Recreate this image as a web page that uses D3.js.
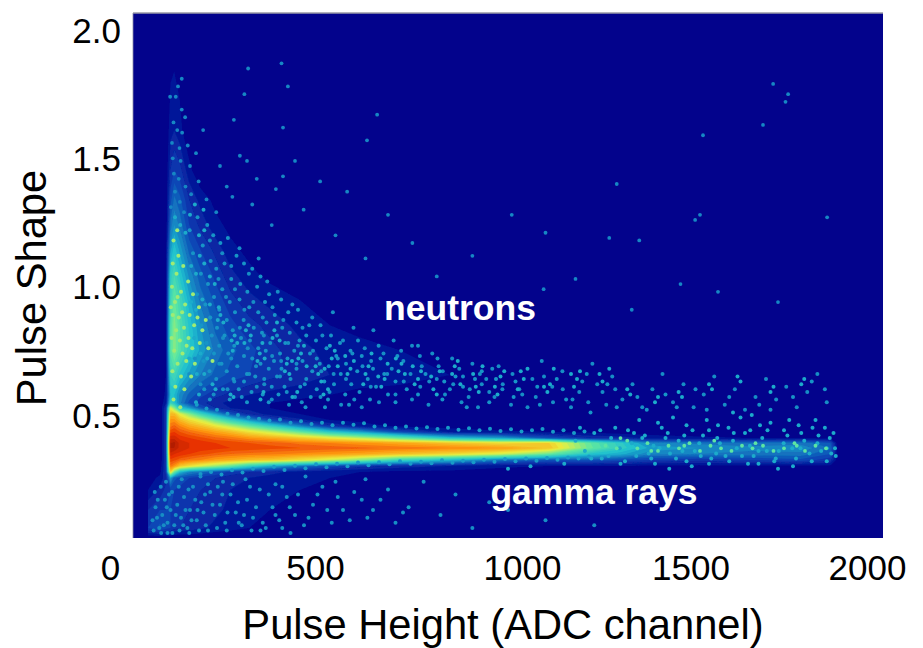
<!DOCTYPE html>
<html><head><meta charset="utf-8">
<script src="https://cdn.jsdelivr.net/npm/d3@7/dist/d3.min.js"></script>
<style>html,body{margin:0;background:#fff}svg{display:block}text{font-family:"Liberation Sans",Arial,sans-serif}</style>
</head><body><svg id="c" width="923" height="648"></svg>
<script>
const xTicks=[0,500,1000,1500,2000];
const yTicks=[0.5,1.0,1.5,2.0];
const xGrid=[40,72,88,100,110,125,150,180,220,260,310,365,445,525,605,710,845,980,1110,1220,1300,1380,1510,1645,1780,1860,1880];
const yGrid=[2.066,1.61,1.454,1.337,1.24,1.143,1.045,.948,.85,.753,.656,.578,.547,.527,.504,.48,.457,.434,.41,.391,.371,.348,.325,.301,.278,.254,.208,.13,.06,.021];
const density=[
[0,0,0,0,0,0,0,0,0,0,0,0,0,0,0,0,0,0,0,0,0,0,0,0,0,0,0],
[0,0,0,.5,.6,.4,0,0,0,0,0,0,0,0,0,0,0,0,0,0,0,0,0,0,0,0,0],
[0,0,0,.9,1.2,1,.4,0,0,0,0,0,0,0,0,0,0,0,0,0,0,0,0,0,0,0,0],
[0,0,0,1.4,1.9,1.6,.9,.5,.2,0,0,0,0,0,0,0,0,0,0,0,0,0,0,0,0,0,0],
[0,0,0,1.9,2.4,2,1.2,.8,.4,.2,0,0,0,0,0,0,0,0,0,0,0,0,0,0,0,0,0],
[0,0,.2,2.6,3.2,2.6,1.7,1.2,.8,.4,.2,0,0,0,0,0,0,0,0,0,0,0,0,0,0,0,0],
[0,0,.2,3.4,3.9,3.2,2.3,1.6,1.1,.7,.4,.2,0,0,0,0,0,0,0,0,0,0,0,0,0,0,0],
[0,0,.2,3.8,4.6,3.9,2.8,2,1.4,1,.7,.5,.3,.1,0,0,0,0,0,0,0,0,0,0,0,0,0],
[0,0,.3,4.2,5,4.2,3.2,2.4,1.7,1.3,1,.8,.5,.3,.2,.1,0,0,0,0,0,0,0,0,0,0,0],
[0,0,.3,4.4,5,4.3,3.4,2.6,2,1.6,1.3,1,.7,.5,.4,.3,.2,.1,0,0,0,0,0,0,0,0,0],
[0,0,.3,3.6,3.9,3.2,2.6,2.1,1.7,1.4,1.2,1,.8,.6,.5,.4,.3,.2,.1,0,0,0,0,0,0,0,0],
[0,0,.4,3,3,2.3,1.7,1.3,1,.8,.6,.5,.4,.3,.2,.2,.1,0,0,0,0,0,0,0,0,0,0],
[0,0,.6,3.6,3.2,2.2,1.4,1,.7,.5,.4,.3,.2,.1,0,0,0,0,0,0,0,0,0,0,0,0,0],
[0,0,1,6,5,3.2,2.6,1.6,.9,.6,.5,.3,.2,.1,0,0,0,0,0,0,0,0,0,0,0,0,0],
[0,0,1,7,7,6,5,3.8,2.6,1.5,.8,.5,.3,.2,.1,0,0,0,0,0,0,0,0,0,0,0,0],
[0,0,1,7.6,7.6,7,6.4,5.8,4.6,3.6,2.5,1.4,.7,.3,.2,0,0,0,0,0,0,0,0,0,0,0,0],
[0,0,1,8,8.2,7.8,7.3,6.9,6.2,5.5,4.6,3.6,2.2,1,.5,.2,.1,0,0,0,0,0,0,0,0,0,0],
[0,0,1,8.6,8.7,8.4,8.1,7.8,7.4,7,6.3,5.7,4.6,3.4,2.6,1.4,.6,.4,.3,.2,.1,.1,0,0,0,0,0],
[0,0,1,9.2,9.2,8.9,8.7,8.5,8.2,8,7.6,7.3,6.8,6.2,5.6,4.6,3.2,2.6,1.5,.9,.8,.5,.4,.3,.3,.2,0],
[0,0,1,9.6,9.7,9.2,9,8.9,8.7,8.6,8.4,8.3,8,7.8,7.6,7.3,6.8,6.4,6.6,4.5,3.4,2.2,2,1.9,2,1.5,0],
[0,0,1,9.6,9.6,9.2,9,8.9,8.8,8.7,8.6,8.5,8.4,8.3,8.2,8,7.8,7.5,6.8,4.6,3.5,2.6,2.4,2.2,2.3,1.8,0],
[0,0,1,9.2,9,8.9,8.7,8.5,8.3,8.1,8,7.9,7.7,7.5,7.3,6.9,6.4,5.8,4.6,3.2,2.8,2.2,2.1,2,2,1.5,0],
[0,0,1,8.6,8.5,8.2,8,7.8,7.4,7.2,6.9,6.8,6.3,5.7,5,3.8,3,2,1.6,1.6,1.4,1.2,1,1.2,1.4,1,0],
[0,.1,1,8,7.6,6.8,6.3,5.8,5.2,4.6,3.6,2.8,2,1.4,1,.8,.6,.4,.3,.3,.3,.2,.2,.2,.2,.2,0],
[0,.2,1,6.5,4.6,3,2.2,1.9,1.5,1.1,.9,.7,.5,.4,.3,.2,.2,.1,.1,.1,.1,0,0,0,0,0,0],
[.1,.4,.8,2.6,1.6,1.4,1.2,1,.9,.7,.6,.5,.4,.3,.2,.1,.1,0,0,0,0,0,0,0,0,0,0],
[.3,.7,1,1.2,1.2,1.1,1,.9,.8,.6,.5,.4,.3,.2,.1,0,0,0,0,0,0,0,0,0,0,0,0],
[.9,1.2,1.2,1.2,1.1,1,.9,.8,.7,.5,.4,.3,.2,.1,0,0,0,0,0,0,0,0,0,0,0,0,0],
[1.2,1.6,1.3,1.2,1,.9,.8,.7,.5,.4,.3,.2,.1,0,0,0,0,0,0,0,0,0,0,0,0,0,0],
[0,0,0,0,0,0,0,0,0,0,0,0,0,0,0,0,0,0,0,0,0,0,0,0,0,0,0]];
const strayEvents=[[130,1.81],[120,1.78],[99,1.74],[114,1.74],[130,1.69],[139,1.66],[307,1.85],[396,1.87],[413,1.78],[297,1.75],[269,1.65],[651,1.67],[624,1.57],[400,1.62],[187,1.61],[285,1.51],[304,1.49],[432,1.49],[330,1.42],[400,1.43],[381,1.38],[499,1.41],[571,1.37],[232,1.47],[250,1.39],[1707,1.79],[1747,1.75],[1740,1.72],[1680,1.63],[1520,1.59],[1851,1.27],[1290,1.40],[1512,1.28],[1499,1.26],[1100,1.21],[1270,1.19],[1350,1.18],[680,1.28],[745,1.17],[905,1.12],[1010,1.28],[1180,1.03],[1460,1.01],[1560,.98],[1720,.94],[1330,.91],[1095,.99],[810,1.04],[620,1.11],[540,1.2],[455,1.3],[370,1.24],[318,1.32],[265,1.35],[222,1.29],[108,1.64],[118,1.61],[131,1.6],[104,1.56],[124,1.54],[146,1.55],[106,1.5],[127,1.49],[152,1.47],[168,1.52],[109,1.44],[122,1.42],[140,1.39],[175,1.41],[196,1.34],[155,1.36],[112,1.37],[125,1.33],[101,1.31],[136,1.29]];
const neutronEvents=[[205,1.18],[238,1.13],[262,1.08],[284,1.15],[309,1.05],[335,1.11],[358,1.02],[386,.98],[228,1.03],[248,.96],[272,.99],[297,.91],[321,.94],[346,.88],[372,.92],[401,.87],[425,.93],[452,.84],[478,.88],[505,.81],[533,.9],[560,.79],[588,.84],[618,.76],[641,.83],[668,.74],[695,.79],[721,.71],[744,.77],[770,.69],[798,.74],[826,.67],[851,.72],[880,.65],[905,.7],[930,.62],[958,.68],[985,.6],[1012,.66],[1038,.58],[1065,.64],[1090,.71],[1118,.61],[1145,.67],[1172,.56],[1198,.63],[1225,.7],[1252,.59],[1278,.65],[1305,.56],[1332,.62],[1358,.53],[1385,.6],[1412,.66],[1440,.55],[1468,.62],[1495,.53],[1522,.58],[1550,.65],[1578,.54],[1605,.6],[1632,.52],[1660,.57],[1688,.64],[1715,.56],[1742,.61],[1770,.53],[1798,.59],[1825,.66],[1850,.55],
[240,.8],[262,.72],[285,.84],[306,.76],[328,.69],[349,.81],[371,.73],[392,.65],[414,.78],[436,.7],[458,.62],[480,.75],[502,.67],[524,.59],[546,.72],[568,.64],[590,.56],[612,.69],[634,.61],[656,.55],[678,.66],[700,.58],[722,.63],[744,.56],[766,.61],[788,.54],[810,.64],[832,.58],[854,.62],[876,.55],[898,.6],[920,.53],[942,.64],[964,.57],[986,.62],[1008,.54],[1030,.6],[1052,.53],[1074,.57],[1096,.65],[1120,.55],[1146,.6],[1168,.53],[1190,.59],[1214,.55],[1238,.62],[1262,.54],[1286,.6],[660,.72],[690,.68],[715,.75],[740,.66],[765,.73],[790,.63],[815,.69],[845,.6],[870,.68],[895,.57],[925,.66],[950,.59],[975,.69],
[180,.62],[215,.58],[252,.6],[290,.57],[330,.61],[370,.56],[410,.59],[450,.55],[500,.57],[555,.54],[610,.53],[150,.66],[165,.72],[195,.78],[230,.7],[270,.63],[310,.66],[350,.62],[395,.71],[440,.77],[490,.72],[535,.66],[585,.74],[635,.71]];
const neutronDense=[[172,1.27],[198,1.24],[151,1.22],[214,1.2],[186,1.16],[233,1.17],[253,1.19],[160,1.13],[207,1.1],[244,1.09],[276,1.12],[296,1.09],[222,1.07],[181,1.05],[262,1.03],[318,1.07],[340,1.04],[200,1.01],[286,1.01],[238,.99],[305,.98],[331,1],[363,.97],[171,.97],[216,.96],[258,.94],[284,.95],[352,.94],[395,.95],[193,.93],[230,.91],[272,.9],[310,.92],[334,.9],[378,.89],[414,.9],[440,.91],[206,.88],[250,.87],[295,.87],[356,.86],[398,.84],[436,.86],[470,.85],[182,.85],[224,.84],[266,.83],[322,.84],[344,.82],[384,.81],[418,.82],[462,.81],[500,.85],[210,.81],[244,.81],[288,.8],[312,.79],[366,.78],[406,.78],[444,.79],[488,.79],[528,.81],[196,.78],[230,.77],[270,.77],[334,.76],[354,.75],[392,.74],[430,.75],[472,.74],[516,.76],[552,.78],[216,.74],[254,.74],[296,.73],[318,.72],[376,.71],[412,.72],[452,.71],[498,.7],[542,.73],[580,.75],[188,.71],[236,.7],[278,.69],[340,.7],[362,.68],[396,.68],[436,.68],[478,.67],[522,.69],[568,.7],[610,.73],[204,.67],[250,.67],[304,.66],[326,.65],[384,.65],[420,.64],[462,.64],[510,.63],[554,.66],[598,.67],[640,.68],[222,.64],[268,.64],[296,.63],[350,.64],[370,.61],[404,.61],[446,.61],[490,.6],[536,.62],[582,.62],[626,.64],[670,.66],[190,.6],[240,.6],[282,.6],[316,.59],[346,.58],[388,.58],[432,.57],[474,.57],[520,.56],[566,.58],[604,.59],[648,.61],[700,.63],[205,.56],[258,.56],[304,.55],[362,.55],[416,.54],[460,.53],[512,.53],[576,.54],[632,.56],[680,.58],[730,.6],[780,.66],[830,.63],[880,.61],[930,.67],[600,.79],[655,.77],[705,.73],[760,.77],[812,.72],[860,.65],[912,.64],[968,.64],[1020,.63],[1078,.61],[1130,.64],[1210,.66],[1265,.62],[1345,.57],[1420,.58],[1500,.6],[1590,.57],[1670,.54],[1760,.57],[700,.55],[760,.58],[825,.56],[890,.53],[950,.55],[1015,.57],[1085,.54],[1155,.56],[1220,.51],[1290,.53],[1370,.52],[1450,.53],[1530,.52],[1700,.52],[1845,.6],[1810,.63]];
const neutronClumps=[[226,.87],[233,.89],[229,.92],[241,.86],[263,.79],[271,.81],[266,.75],[278,.78],[301,.83],[308,.85],[314,.81],[297,.78],[338,.74],[345,.78],[351,.72],[332,.71],[377,.83],[384,.86],[372,.8],[391,.79],[410,.7],[417,.66],[424,.71],[405,.67],[448,.74],[456,.77],[441,.72],[463,.69],[494,.66],[502,.63],[487,.69],[511,.68],[530,.72],[538,.75],[525,.77],[546,.69],[572,.66],[580,.68],[566,.73],[589,.71],[620,.66],[628,.69],[614,.62],[636,.74],[662,.61],[671,.64],[654,.65],[679,.7],[708,.67],[716,.7],[701,.72],[725,.66],[751,.62],[760,.64],[746,.69],[768,.67],[801,.6],[810,.58],[795,.65],[818,.67],[858,.69],[866,.71],[851,.66],[873,.62],[914,.61],[922,.59],[907,.66],[932,.69],[972,.58],[980,.65],[965,.61],[990,.67],[1034,.67],[1042,.64],[1026,.6],[1052,.68],[1105,.59],[1112,.62],[1096,.61],[1122,.68],[1176,.61],[1184,.64],[1168,.66],[1192,.67],[1244,.66],[1252,.63],[1270,.68],[1318,.6],[1326,.58],[1392,.55],[1400,.57],[1455,.59],[1464,.57],[1536,.62],[1544,.6],[1612,.65],[1620,.63],[1700,.59],[1708,.61],[1782,.62],[1790,.64],[168,.55],[176,.58],[212,.62],[220,.6],[260,.58],[268,.57],[340,.56],[348,.59],[425,.57],[438,.59],[508,.58],[520,.6],[155,1.08],[168,1.05],[178,1.12],[190,1.09],[205,1.04],[218,1.01],[176,1.2],[190,1.22],[152,1.28],[165,1.32],[188,1.3],[112,1.27],[126,1.24],[140,1.21],[155,.94],[168,.91],[185,.95],[205,.93],[163,.8],[180,.74],[198,.72],[150,.72],[170,.66],[190,.66]];
const neutronCore=[[108,1.18],[121,1.12],[116,1.05],[134,1.08],[104,1],[128,.98],[147,1.02],[112,.94],[139,.93],[160,.97],[106,.89],[122,.88],[151,.89],[176,.92],[115,.83],[136,.84],[163,.85],[103,.8],[125,.79],[148,.8],[185,.83],[110,.75],[132,.74],[158,.76],[178,.78],[119,.7],[142,.71],[105,.67],[128,.65],[165,.7],[201,.76],[113,.61],[137,.6],[155,.65],[108,.56],[126,.53],[119,.96],[131,.9],[101,.92],[143,.77],[172,.88],[194,.87],[212,.71],[118,1.22],[106,1.09]];
const gammaTail=[[1180,.4],[1205,.36],[1230,.43],[1250,.33],[1275,.41],[1298,.37],[1320,.44],[1342,.34],[1365,.42],[1388,.38],[1410,.45],[1432,.35],[1455,.4],[1476,.46],[1498,.36],[1520,.42],[1542,.33],[1565,.39],[1588,.45],[1610,.37],[1632,.43],[1655,.34],[1678,.41],[1700,.47],[1722,.36],[1745,.42],[1768,.33],[1790,.4],[1812,.45],[1835,.36],[1858,.41],[1872,.37],[1330,.39],[1375,.35],[1420,.41],[1465,.36],[1510,.39],[1555,.35],[1600,.4],[1645,.38],[1690,.36],[1735,.39],[1780,.37],[1825,.39],[1862,.35],[1350,.48],[1440,.49],[1530,.48],[1620,.49],[1750,.48],[1600,.51],[1650,.5],[1820,.48],[1300,.31],[1490,.3],[1640,.31],[1760,.3],[1430,.29],[1720,.29],[1810,.32],[1150,.31],[1060,.3],[1000,.29],
[1286,.45],[1312,.32],[1336,.43],[1358,.41],[1382,.33],[1404,.37],[1426,.43],[1448,.33],[1470,.42],[1492,.44],[1514,.34],[1536,.44],[1558,.41],[1580,.34],[1602,.43],[1624,.34],[1646,.44],[1668,.36],[1692,.44],[1714,.33],[1736,.44],[1758,.37],[1782,.43],[1804,.35],[1828,.42],[1850,.37],[1868,.43],[1874,.34],[1268,.34],[1246,.44],[1222,.33],[1192,.45],[1400,.47],[1560,.46],[1672,.46],[1775,.46],[1845,.45],[1392,.31],[1536,.31],[1668,.31],[1850,.32],[1476,.32],[1590,.32],[1710,.32]];
const gammaBright=[[1290,.37],[1318,.4],[1345,.37],[1372,.39],[1400,.36],[1428,.38],[1456,.37],[1484,.39],[1512,.36],[1540,.38],[1568,.37],[1596,.36],[1624,.38],[1652,.37],[1680,.38],[1708,.36],[1736,.37],[1764,.39],[1792,.36],[1820,.38],[1848,.37],[1260,.38],[1300,.41],[1382,.36],[1470,.38],[1550,.4],[1660,.39],[1770,.38]];
const bandEdges=[[170,.54],[196,.525],[224,.52],[252,.505],[280,.5],[308,.49],[336,.485],[364,.478],[392,.482],[420,.47],[448,.476],[476,.465],[504,.47],[532,.46],[560,.47],[588,.462],[616,.468],[644,.455],[672,.46],[700,.45],[728,.455],[756,.447],[784,.452],[812,.445],[840,.45],[868,.442],[896,.448],[924,.44],[952,.446],[980,.438],[1008,.444],[1036,.436],[1064,.44],[1092,.445],[1120,.435],[1148,.44],[1176,.43],[1204,.436],
[180,.27],[208,.278],[236,.268],[264,.285],[292,.276],[320,.29],[348,.282],[376,.298],[404,.286],[432,.302],[460,.292],[488,.308],[516,.296],[544,.31],[572,.3],[600,.315],[628,.304],[656,.316],[684,.308],[712,.32],[740,.31],[768,.318],[796,.312],[824,.324],[852,.314],[880,.322],[908,.316],[936,.326],[964,.318],[992,.328],[1020,.32],[1048,.33],[1076,.322],[1104,.332],[1132,.326],[1160,.334],[1188,.33],[1216,.338]];
const lowEvents=[[52,.09],[60,.14],[70,.06],[78,.11],[85,.17],[58,.2],[74,.22],[92,.08],[100,.13],[88,.24],[96,.19],[110,.07],[118,.15],[128,.1],[136,.18],[145,.06],[152,.13],[160,.22],[170,.09],[182,.16],[194,.07],[206,.2],[218,.11],[232,.15],[246,.08],[260,.19],[274,.12],[290,.07],[304,.17],[320,.1],[338,.21],[354,.06],[372,.14],[390,.09],[410,.18],[432,.11],[456,.07],[480,.15],[505,.22],[530,.08],[560,.13],[590,.2],[625,.1],[660,.17],[700,.08],[735,.14],[775,.24],[820,.11],[860,.19],[905,.06],[950,.16],[1000,.13],[1040,.22],[1100,.09],[1160,.2],[1230,.07],[240,.24],[300,.25],[380,.23],[460,.26],[540,.24],[620,.25],[130,.25],[180,.26],[75,.04],[55,.05],[105,.04],[150,.04],[200,.05],[340,.05],[420,.04],
[64,.1],[82,.07],[66,.17],[90,.14],[104,.2],[114,.11],[124,.05],[140,.13],[148,.21],[156,.09],[166,.17],[176,.05],[188,.12],[200,.23],[212,.15],[224,.06],[238,.19],[252,.12],[266,.23],[280,.16],[296,.11],[312,.22],[328,.14],[346,.08],[362,.19],[380,.11],[398,.22],[418,.14],[440,.19],[468,.1],[492,.19],[518,.13],[546,.18],[578,.09],[610,.17],[640,.13],[680,.21],[720,.12],[92,.04],[122,.22],[134,.07],[172,.13],[192,.19],[226,.22],[250,.05],[282,.08],[316,.05],[398,.06]];

const x=d3.scaleLinear().domain([0,2000]).range([133,883]);
const y=d3.scaleLinear().domain([0,2]).range([543.3,30]);
const jet=d3.scaleLinear().domain([0,1.2,3,4.5,6,7.5,8.8,10])
  .range(["#03038c","#0a40b4","#1fc0d0","#5fe8a0","#e8f040","#ff9a10","#e83000","#a01800"]);
const svg=d3.select("#c");
svg.append("rect").attr("x",x(0)).attr("y",13).attr("width",750).attr("height",525).attr("fill",jet(0));
svg.append("defs").html('<clipPath id="plot"><rect x="133" y="13" width="750" height="525"/></clipPath><filter id="soft" x="-5%" y="-5%" width="110%" height="110%"><feGaussianBlur stdDeviation="0.55"/></filter><filter id="soft2" x="-5%" y="-5%" width="110%" height="110%"><feGaussianBlur stdDeviation="0.7"/></filter>');
const plot=svg.append("g").attr("clip-path","url(#plot)");
const nx=xGrid.length,ny=yGrid.length;
const gx=d3.scaleLinear().domain(d3.range(nx)).range(xGrid.map(d=>x(d))).clamp(true);
const gy=d3.scaleLinear().domain(d3.range(ny)).range(yGrid.map(d=>y(d))).clamp(true);
const path=d3.geoPath(d3.geoTransform({point(a,b){this.stream.point(gx(a-.5),gy(b-.5));}}));
const thresholds=d3.range(.3,10,.3);
const draw=(g,arr,r,c)=>g.append("g").selectAll("circle").data(arr).join("circle")
  .attr("cx",d=>x(d[0])).attr("cy",d=>y(d[1])).attr("r",r).attr("fill",c);
plot.append("g").attr("filter","url(#soft2)").selectAll("path")
  .data(d3.contours().size([nx,ny]).thresholds(thresholds)(density.flat()))
  .join("path").attr("d",path).attr("fill",d=>jet(d.value+.1));
const marks=plot.append("g").attr("filter","url(#soft)");
draw(marks,strayEvents,1.9,jet(2.2));
draw(marks,neutronEvents,2,jet(2.3));
draw(marks,neutronDense,2,jet(2.4));
draw(marks,neutronClumps,2,jet(2.7));
draw(marks,neutronCore,2,jet(5.2));
draw(marks,bandEdges,2,jet(2.5));
draw(marks,gammaTail,2,jet(2.7));
draw(marks,gammaBright,1.9,jet(4.4));
draw(marks,lowEvents,2,jet(2.3));
svg.append("line").attr("x1",133).attr("x2",883).attr("y1",13).attr("y2",13).attr("stroke","#9a9aa6").attr("stroke-width",1.5);
svg.append("line").attr("x1",133).attr("x2",133).attr("y1",13).attr("y2",538).attr("stroke","#8a8aa6").attr("stroke-width",.8);
const xNudge=[-23,-5.5,14,-5,-16];
const ax=svg.append("g").attr("transform","translate(0,538)").call(d3.axisBottom(x).tickValues(xTicks).tickSize(0).tickFormat(d3.format("d")));
ax.select(".domain").remove();
ax.selectAll("text").attr("font-size",35).attr("fill","#000").attr("dy",null).attr("y",42).attr("dx",(d,i)=>xNudge[i]);
const ay=svg.append("g").attr("transform","translate(121,0)").call(d3.axisLeft(y).tickValues(yTicks).tickSize(0).tickFormat(d3.format(".1f")));
ay.select(".domain").remove();
ay.selectAll("text").attr("font-size",35).attr("fill","#000").attr("x",0).attr("dy","0.35em");
svg.append("text").attr("x",503).attr("y",639).attr("text-anchor","middle").attr("font-size",41.7).text("Pulse Height (ADC channel)");
svg.append("text").attr("transform","translate(46,288) rotate(-90)").attr("text-anchor","middle").attr("font-size",41.7).text("Pulse Shape");
svg.append("text").attr("x",460).attr("y",320).attr("text-anchor","middle").attr("font-size",35.5).attr("font-weight","bold").attr("fill","#fff").text("neutrons");
svg.append("text").attr("x",594).attr("y",504).attr("text-anchor","middle").attr("font-size",35.5).attr("font-weight","bold").attr("fill","#fff").text("gamma rays");
</script></body></html>
